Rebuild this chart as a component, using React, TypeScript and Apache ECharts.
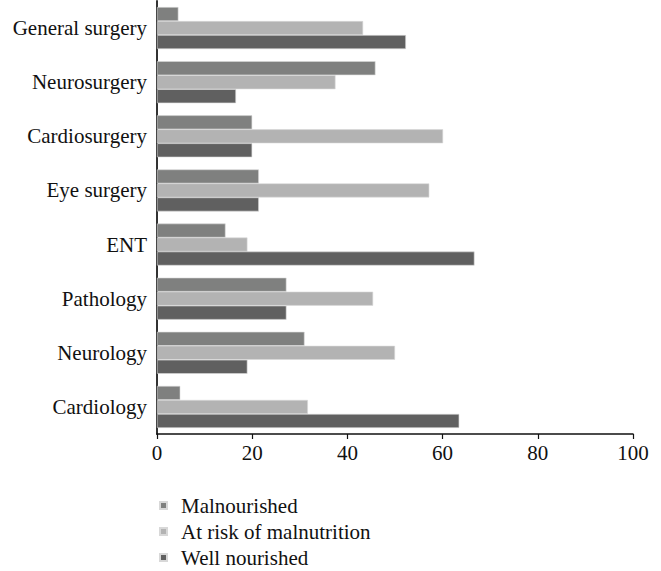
import React, { useEffect, useRef } from "react";
import * as echarts from "echarts";

const categories = [
  "General surgery",
  "Neurosurgery",
  "Cardiosurgery",
  "Eye surgery",
  "ENT",
  "Pathology",
  "Neurology",
  "Cardiology",
];
const malnourished = [4.5, 45.9, 20, 21.4, 14.4, 27.2, 31.0, 4.9];
const atRisk = [43.3, 37.5, 60.1, 57.2, 19.0, 45.4, 50.0, 31.7];
const wellNourished = [52.3, 16.6, 20, 21.4, 66.7, 27.2, 19.0, 63.5];
const xTicks = [0, 20, 40, 60, 80, 100];

const FONT = "Liberation Serif";
const FS = 21;

export default function App() {
  const ref = useRef<HTMLDivElement>(null);
  useEffect(() => {
    document.body.style.margin = "0";
    const chart = echarts.init(ref.current!, undefined, { renderer: "svg" });
    const mk = (name: string, data: number[], color: string) => ({
      name,
      type: "bar",
      data,
      barWidth: 14,
      barGap: "0%",
      itemStyle: { color, borderColor: "#d8d8d8", borderWidth: 0.6 },
    });
    chart.setOption({
      animation: false,
      textStyle: { fontFamily: FONT },
      grid: { left: 157, right: 28, top: 1, bottom: 137, containLabel: false },
      xAxis: {
        type: "value",
        min: xTicks[0],
        max: xTicks[xTicks.length - 1],
        interval: 20,
        axisLine: { show: true, lineStyle: { color: "#111", width: 1.5 } },
        axisTick: { show: true, length: 5, lineStyle: { color: "#111", width: 1.2 } },
        axisLabel: { color: "#111", fontSize: FS, fontFamily: FONT, margin: 8 },
        splitLine: { show: false },
      },
      yAxis: {
        type: "category",
        data: categories,
        inverse: true,
        axisLine: { show: true, lineStyle: { color: "#333", width: 2 } },
        axisTick: { show: false },
        axisLabel: { color: "#111", fontSize: FS, fontFamily: FONT, margin: 10 },
      },
      legend: {
        orient: "vertical",
        left: 159,
        top: 495,
        height: 76,
        padding: 0,
        itemWidth: 7,
        itemHeight: 7,
        itemGap: 5,
        icon: "rect",
        textStyle: {
          color: "#111",
          fontSize: FS,
          lineHeight: 21,
          fontFamily: FONT,
          padding: [0, 0, 0, 9],
        },
        data: ["Malnourished", "At risk of malnutrition", "Well nourished"],
      },
      series: [
        mk("Malnourished", malnourished, "#7f807f"),
        mk("At risk of malnutrition", atRisk, "#b3b3b3"),
        mk("Well nourished", wellNourished, "#606060"),
      ],
    });
    return () => chart.dispose();
  }, []);
  return <div ref={ref} style={{ width: 661, height: 571 }} />;
}
